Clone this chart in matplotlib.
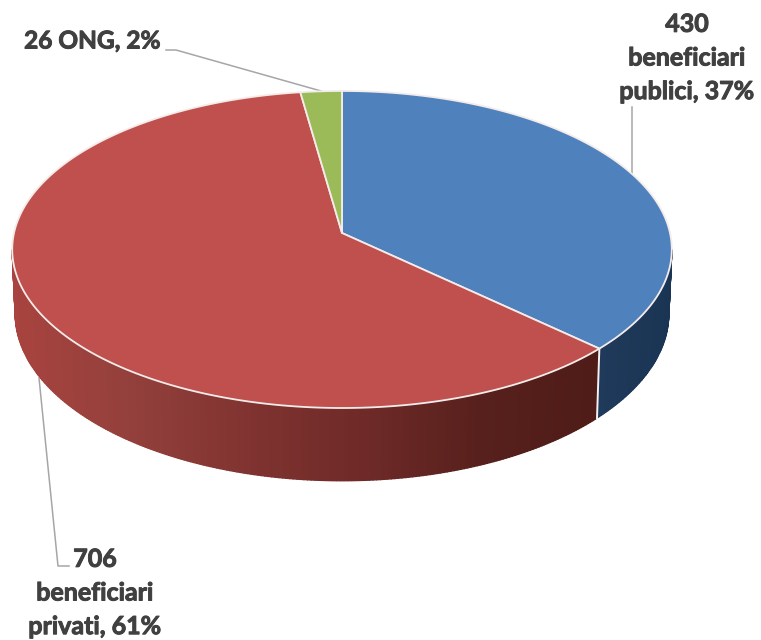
import numpy as np
import matplotlib
matplotlib.use("Agg")
import matplotlib.pyplot as plt
import matplotlib.patheffects as pe
from matplotlib.colors import LinearSegmentedColormap

# ---- data ----
categories = ["beneficiari\npublici", "beneficiari\nprivati", "ONG"]
counts = [430, 706, 26]
percents = [37, 61, 2]

# ---- style ----
top_colors = ["#4f81bd", "#c0504d", "#9bbb59"]
side_colors = [["#1f3a5a", "#1a3454"], ["#a8433f", "#93403c", "#803330", "#6e2a28", "#57201c", "#4f1c18"], ["#6a8a35", "#6a8a35"]]
text_color = "#404040"
leader_color = "#a6a6a6"
plt.rcParams["font.family"] = ["Lato", "DejaVu Sans"]

fig = plt.figure(figsize=(7.61, 6.40), dpi=100)
ax = fig.add_axes([0, 0, 1, 1])
ax.set_xlim(0, 761)
ax.set_ylim(640, 0)
ax.axis("off")

# perspective view of a flat disc (top rim) and the lower rim of the wall
cx, cy, a, b, k = 342.0, 233.0, 328.0, 156.8, 0.104
cy_low, a_low, b_low = 296.0, 325.0, 165.5


def project(theta):
    u, v = np.sin(theta), np.cos(theta)
    w = 1 + k * v
    return cx + a * u / w, cy - b * v / w


def project_low(theta):
    u, v = np.sin(theta), np.cos(theta)
    w = 1 + k * v
    return cx + a_low * u / w, cy_low - b_low * v / w


fractions = np.array(counts, dtype=float) / sum(counts)
edges = np.concatenate([[0.0], np.cumsum(fractions)]) * 2 * np.pi

# leader lines (below the pie)
lw_leader = 1.1
ax.plot([166, 176, 321], [50, 50, 91], color=leader_color, lw=lw_leader, zorder=1)
ax.plot([632, 632], [107, 175], color=leader_color, lw=lw_leader, zorder=1)
ax.plot([39, 58, 69], [378, 566, 566], color=leader_color, lw=lw_leader, zorder=1)

# side wall: only the part of the rim facing the viewer
vis_start = np.pi - np.arccos(k)
vis_end = np.pi + np.arccos(k)
for i in range(len(counts)):
    start, end = max(edges[i], vis_start), min(edges[i + 1], vis_end)
    if end <= start:
        continue
    cmap = LinearSegmentedColormap.from_list("s", side_colors[i])
    n = max(2, int((end - start) * 100))
    ts = np.linspace(start, end, n + 1)
    xs_all = project(ts)[0]
    lo, hi = xs_all.min(), xs_all.max()
    for t0, t1 in zip(ts[:-1], ts[1:]):
        x0, y0 = project(t0)
        x1, y1 = project(t1)
        xb1, yb1 = project_low(t1)
        xb0, yb0 = project_low(t0)
        c = cmap((0.5 * (x0 + x1) - lo) / max(hi - lo, 1))
        ax.fill([x0, x1, xb1, xb0], [y0, y1, yb1, yb0], facecolor=c, edgecolor=c, lw=1.0, zorder=2)

# light separator on the wall between slices
for e in edges[1:-1]:
    if vis_start < e < vis_end:
        xe, ye = project(e)
        xl, yl = project_low(e)
        ax.plot([xe, xl], [ye, yl], color="#f2f2f2", lw=1.4, zorder=3)

# top faces
for i in range(len(counts)):
    ts = np.linspace(edges[i], edges[i + 1], 300)
    xa, ya = project(ts)
    ax.fill(np.r_[cx, xa], np.r_[cy, ya], facecolor=top_colors[i],
            edgecolor="#f4ecea", lw=1.3, joinstyle="round", zorder=4)

# labels
font = dict(fontsize=18.0, fontweight="bold", color=text_color, linespacing=1.56, zorder=6,
            path_effects=[pe.withStroke(linewidth=0.7, foreground=text_color)])
ax.text(687, 58, f"{counts[0]}\n{categories[0]}, {percents[0]}%", ha="center", va="center", **font)
ax.text(95, 593, f"{counts[1]}\n{categories[1]}, {percents[1]}%", ha="center", va="center", **font)
ax.text(92, 41, f"{counts[2]} {categories[2]}, {percents[2]}%", ha="center", va="center",
        **{**font, "fontsize": 17.6})

fig.savefig("out.png", dpi=100)
